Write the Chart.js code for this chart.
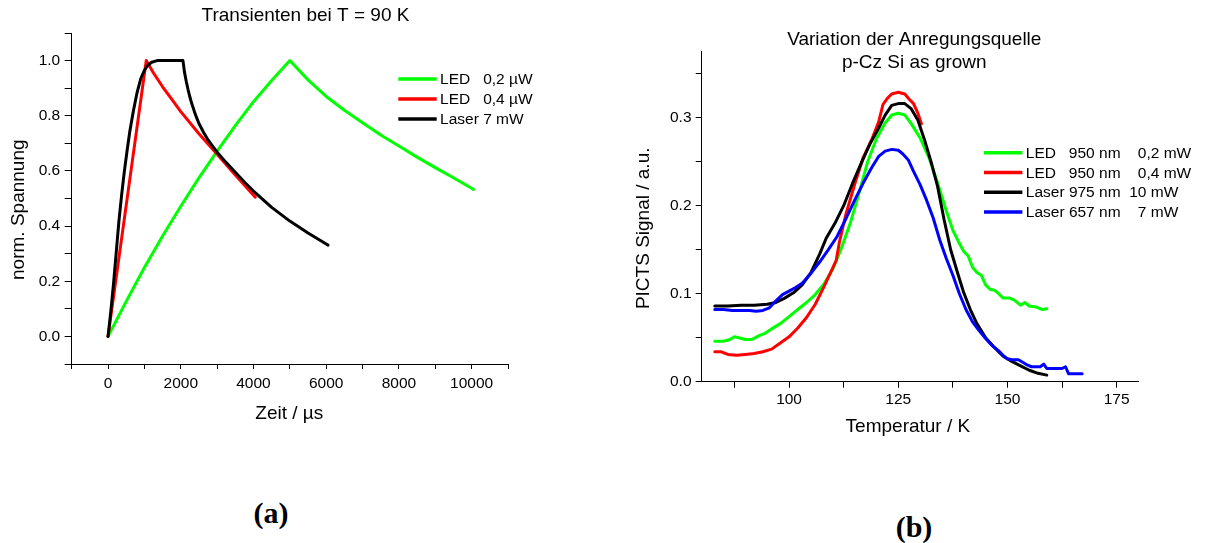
<!DOCTYPE html>
<html>
<head>
<meta charset="utf-8">
<script src="https://cdn.jsdelivr.net/npm/chart.js@4.4.1/dist/chart.umd.min.js"></script>
<style>
  body { margin: 0; background: #fff; width: 1207px; height: 543px; overflow: hidden; position: relative; }
  canvas { position: absolute; top: 0; }
  #transient { left: 0; }
  #picts { left: 621px; }
  .cap { position: absolute; transform: translate(-50%, -50%); font: bold 30px 'Liberation Serif', 'Times New Roman', serif; line-height: 1; color: #000; }
</style>
</head>
<body>
<canvas id="transient" width="611" height="440"></canvas>
<canvas id="picts" width="586" height="440"></canvas>
<div class="cap" style="left:271px; top:513px">(a)</div>
<div class="cap" style="left:914px; top:527px">(b)</div>

<script>
// (a) transients at 90 K, time in µs, normalised voltage
const ledLowTime = [0, 500, 1000, 1500, 2000, 2500, 3000, 3500, 4000, 4500, 5000, 5500, 6000, 6500, 7000, 7500, 8000, 8500, 9000, 9500, 10000, 10050];
const ledLowVolt = [0, 0.127, 0.25, 0.364, 0.472, 0.575, 0.672, 0.764, 0.851, 0.928, 1.0, 0.93, 0.87, 0.82, 0.775, 0.73, 0.69, 0.65, 0.612, 0.575, 0.537, 0.533];

const ledHighTime = [0, 1050, 1250, 1500, 1750, 2000, 2500, 3000, 3500, 4000, 4050];
const ledHighVolt = [0, 1.0, 0.955, 0.905, 0.86, 0.815, 0.735, 0.66, 0.585, 0.512, 0.505];

const laserTime = [0, 75, 150, 225, 300, 375, 450, 525, 600, 700, 800, 900, 1000, 1100, 1200, 1350, 1700, 2060,
    2100, 2150, 2200, 2250, 2300, 2400, 2500, 2625, 2750, 2875, 3000, 3250, 3500, 3750, 4000, 4500, 5000, 5500, 6000, 6050];
const laserVolt = [0, 0.09, 0.19, 0.305, 0.42, 0.515, 0.6, 0.675, 0.745, 0.82, 0.885, 0.935, 0.965, 0.984, 0.994, 1.0, 1.0, 1.0,
    0.96, 0.925, 0.895, 0.868, 0.845, 0.805, 0.772, 0.74, 0.712, 0.69, 0.668, 0.63, 0.595, 0.56, 0.527, 0.468, 0.418, 0.375, 0.335, 0.331];

const timeTicks = [-1000, 0, 1000, 2000, 3000, 4000, 5000, 6000, 7000, 8000, 9000, 10000, 11000];
const timeLabels = [0, 2000, 4000, 6000, 8000, 10000];
const voltTicks = [-0.1, 0, 0.1, 0.2, 0.3, 0.4, 0.5, 0.6, 0.7, 0.8, 0.9, 1.0, 1.1];
const voltLabels = [0, 0.2, 0.4, 0.6, 0.8, 1.0];

// (b) PICTS spectra, temperature in K, signal in a.u.
const led02Temp = [83, 85, 86.5, 87.5, 88.5, 90, 91.5, 93, 94.5, 96, 98, 100, 102, 104, 106, 108, 110, 112, 114, 116, 118, 120, 122, 123.5, 125, 126.5, 128, 130, 132, 134, 136, 137.5, 139, 140, 141, 142, 143, 144, 145, 146, 147, 148, 149, 150.5, 151.5, 153, 154, 155, 156.5, 158, 159];
const led02Sig = [0.046, 0.046, 0.048, 0.051, 0.05, 0.048, 0.048, 0.052, 0.055, 0.06, 0.066, 0.074, 0.082, 0.09, 0.099, 0.111, 0.128, 0.152, 0.18, 0.214, 0.25, 0.276, 0.294, 0.303, 0.305, 0.303, 0.293, 0.277, 0.255, 0.226, 0.194, 0.172, 0.157, 0.148, 0.143, 0.13, 0.124, 0.121, 0.11, 0.105, 0.104, 0.1, 0.095, 0.095, 0.093, 0.087, 0.09, 0.086, 0.085, 0.082, 0.083];

const led04Temp = [83, 84.5, 86, 88, 90, 92, 94, 96, 98, 100, 102, 104, 106, 108, 109.5, 110.8, 111.5, 113, 115, 117, 119, 120.5, 121.5, 122.5, 123.5, 125, 126.5, 127.5, 128.5, 129.5, 130.3];
const led04Sig = [0.034, 0.034, 0.031, 0.03, 0.031, 0.032, 0.034, 0.037, 0.044, 0.051, 0.061, 0.073, 0.088, 0.108, 0.124, 0.138, 0.158, 0.19, 0.224, 0.255, 0.276, 0.295, 0.315, 0.322, 0.327, 0.329, 0.327, 0.321, 0.316, 0.305, 0.293];

const laser975Temp = [83, 86, 89, 92, 95, 97, 99, 101, 103, 105, 107, 108.5, 110.5, 112.5, 114.5, 116.5, 118.5, 120.5, 122, 123.5, 125, 126.5, 128, 129.5, 131, 132.5, 134, 135.5, 137, 138.5, 140, 141.5, 143, 145, 147, 149, 151, 153, 155, 157, 159];
const laser975Sig = [0.086, 0.086, 0.087, 0.087, 0.088, 0.09, 0.095, 0.101, 0.11, 0.124, 0.145, 0.163, 0.18, 0.2, 0.225, 0.248, 0.27, 0.288, 0.303, 0.314, 0.316, 0.316, 0.31, 0.297, 0.275, 0.25, 0.222, 0.184, 0.15, 0.125, 0.101, 0.082, 0.066, 0.05, 0.039, 0.029, 0.023, 0.018, 0.013, 0.0095, 0.0075];

const laser657Temp = [83, 85, 87, 89, 91, 92.5, 94, 95.5, 97, 98.5, 100, 101.5, 103, 105, 107, 109, 111, 113, 115, 117, 119, 120.5, 122, 123.5, 125, 126, 127.3, 128.5, 130, 131.5, 133, 134.5, 136, 137.5, 139, 140.5, 142, 143.5, 145, 146.5, 148, 149, 150, 151, 152.5, 153.5, 154.5, 155.5, 157.5, 158.3, 159, 162.5, 163.3, 164, 167.1];
const laser657Sig = [0.082, 0.082, 0.081, 0.081, 0.081, 0.08, 0.081, 0.084, 0.092, 0.099, 0.103, 0.107, 0.112, 0.123, 0.136, 0.15, 0.165, 0.185, 0.206, 0.226, 0.244, 0.256, 0.262, 0.264, 0.263, 0.259, 0.252, 0.239, 0.224, 0.206, 0.186, 0.161, 0.14, 0.121, 0.1, 0.082, 0.068, 0.058, 0.049, 0.041, 0.035, 0.03, 0.026, 0.025, 0.025, 0.022, 0.019, 0.017, 0.017, 0.02, 0.015, 0.015, 0.017, 0.009, 0.009];

const tempTicks = [87.5, 100, 112.5, 125, 137.5, 150, 162.5, 175];
const tempLabels = [100, 125, 150, 175];
const signalTicks = [0, 0.05, 0.1, 0.15, 0.2, 0.25, 0.3, 0.35];
const signalLabels = [0, 0.1, 0.2, 0.3];

const FONT = "'Liberation Sans', Arial, sans-serif";
Chart.defaults.font.family = FONT;
Chart.defaults.color = '#000';

const points = (xs, ys) => xs.map((x, i) => ({ x: x, y: ys[i] }));
const hasValue = (list, v) => list.some(l => Math.abs(l - v) < 1e-6);

function curve(label, color, xs, ys, order) {
    return {
        label: label,
        data: points(xs, ys),
        borderColor: color,
        backgroundColor: color,
        borderWidth: 3,
        borderCapStyle: 'round',
        borderJoinStyle: 'round',
        pointRadius: 0,
        tension: 0,
        fill: false,
        order: order   // later series drawn on top
    };
}

// axis with outward tick marks only, no grid inside the plot
function axis(min, max, tickValues, labelValues, fmt, tickLength, padding, fitSize) {
    return {
        type: 'linear',
        min: min,
        max: max,
        afterBuildTicks: scale => { scale.ticks = tickValues.map(v => ({ value: v })); },
        afterFit: scale => {
            if (scale.isHorizontal()) scale.height = fitSize; else scale.width = fitSize;
        },
        border: { display: true, color: '#000', width: 1 },
        grid: { display: true, drawOnChartArea: false, drawTicks: true, tickLength: tickLength, color: '#000', lineWidth: 1 },
        ticks: {
            autoSkip: false,
            maxRotation: 0,
            minRotation: 0,
            padding: padding,
            font: { size: 15.5 },
            color: '#000',
            callback: v => hasValue(labelValues, v) ? fmt(v) : ''
        }
    };
}

// titles and axis captions at fixed spots on the canvas
function textLayer(items) {
    return {
        id: 'textLayer',
        afterDraw(chart) {
            const ctx = chart.ctx;
            ctx.save();
            ctx.fillStyle = '#000';
            ctx.textAlign = 'center';
            ctx.textBaseline = 'middle';
            items.forEach(t => {
                ctx.save();
                ctx.font = (t.size || 19) + 'px ' + FONT;
                ctx.translate(t.x, t.y);
                if (t.rotate) ctx.rotate(t.rotate * Math.PI / 180);
                ctx.fillText(t.text, 0, 0);
                ctx.restore();
            });
            ctx.restore();
        }
    };
}

// legend: short coloured line followed by the series label
function lineLegend(x, y, rowGap) {
    return {
        id: 'lineLegend',
        afterDraw(chart) {
            const ctx = chart.ctx;
            ctx.save();
            ctx.font = '15.5px ' + FONT;
            ctx.textBaseline = 'middle';
            ctx.textAlign = 'left';
            chart.data.datasets.forEach((ds, i) => {
                const ry = y + i * rowGap;
                ctx.strokeStyle = ds.borderColor;
                ctx.lineWidth = 3.5;
                ctx.beginPath();
                ctx.moveTo(x, ry);
                ctx.lineTo(x + 38.4, ry);
                ctx.stroke();
                ctx.fillStyle = '#000';
                ctx.fillText(ds.label, x + 41.8, ry + 0.8);
            });
            ctx.restore();
        }
    };
}

const baseOptions = (padding, scales) => ({
    responsive: false,
    animation: false,
    events: [],
    layout: { padding: padding },
    plugins: { legend: { display: false }, title: { display: false }, tooltip: { enabled: false } },
    scales: scales
});

new Chart(document.getElementById('transient'), {
    type: 'line',
    data: {
        datasets: [
            curve('LED   0,2 µW', '#00ff00', ledLowTime, ledLowVolt, 0),
            curve('LED   0,4 µW', '#ff0000', ledHighTime, ledHighVolt, -1),
            curve('Laser 7 mW', '#000000', laserTime, laserVolt, -2)
        ]
    },
    options: baseOptions({ top: 33, left: 0, right: 103, bottom: 0 }, {
        x: axis(-1000, 11000, timeTicks, timeLabels, v => String(v), 5, 5, 76),
        y: axis(-0.1, 1.1, voltTicks, voltLabels, v => v.toFixed(1), 7, 4.5, 71.7)
    }),
    plugins: [
        textLayer([
            { text: 'Transienten bei T = 90 K', x: 305.5, y: 16.2 },
            { text: 'Zeit / µs', x: 289.3, y: 414.2 },
            { text: 'norm. Spannung', x: 19, y: 209.7, rotate: -90 }
        ]),
        lineLegend(398.3, 79, 20)
    ]
});

new Chart(document.getElementById('picts'), {
    type: 'line',
    data: {
        datasets: [
            curve('LED   950 nm    0,2 mW', '#00ff00', led02Temp, led02Sig, 0),
            curve('LED   950 nm    0,4 mW', '#ff0000', led04Temp, led04Sig, -1),
            curve('Laser 975 nm  10 mW', '#000000', laser975Temp, laser975Sig, -2),
            curve('Laser 657 nm    7 mW', '#0000ff', laser657Temp, laser657Sig, -3)
        ]
    },
    options: baseOptions({ top: 51.7, left: 0, right: 68.5, bottom: 0 }, {
        x: axis(80, 180, tempTicks, tempLabels, v => String(v), 6, 3, 58.3),
        y: axis(0, 0.375, signalTicks, signalLabels, v => v.toFixed(1), 6, 4.2, 80.7)
    }),
    plugins: [
        textLayer([
            { text: 'Variation der Anregungsquelle', x: 293.3, y: 39.7 },
            { text: 'p-Cz Si as grown', x: 293.3, y: 63.1 },
            { text: 'Temperatur / K', x: 286.9, y: 426.4 },
            { text: 'PICTS Signal / a.u.', x: 23, y: 228.3, rotate: -90 }
        ]),
        lineLegend(363, 152.7, 19.8)
    ]
});
</script>
</body>
</html>
